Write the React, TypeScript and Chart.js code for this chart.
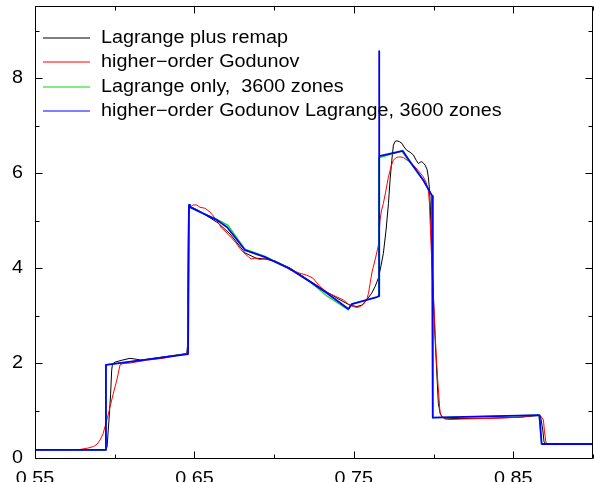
import React, { useEffect, useRef } from "react";
import { Chart, registerables } from "chart.js";

Chart.register(...registerables);

// ---- data (x = position, y = value) ----
const blackX = [0.55, 0.5939, 0.5952, 0.5964, 0.5974, 0.5981, 0.5986, 0.6002, 0.6046, 0.6096, 0.6134, 0.6169, 0.6284, 0.6452, 0.6457, 0.6463, 0.6479, 0.6523, 0.6648, 0.6723, 0.6817, 0.6886, 0.6943, 0.7006, 0.71, 0.7225, 0.733, 0.7413, 0.7476, 0.7518, 0.7551, 0.758, 0.7612, 0.7633, 0.7654, 0.7671, 0.7685, 0.7702, 0.7717, 0.7727, 0.7738, 0.7748, 0.7759, 0.7771, 0.7787, 0.7801, 0.7815, 0.7832, 0.7853, 0.7874, 0.7891, 0.7905, 0.7916, 0.7926, 0.7937, 0.7947, 0.7959, 0.7967, 0.7974, 0.7978, 0.7989, 0.7999, 0.8009, 0.802, 0.803, 0.8041, 0.8052, 0.8066, 0.8166, 0.8354, 0.8543, 0.8656, 0.8671, 0.8685, 0.8693, 0.8706, 0.9];
const blackY = [0.17, 0.17, 0.23, 0.8, 1.33, 1.85, 1.98, 2.02, 2.06, 2.1, 2.08, 2.06, 2.12, 2.2, 2.38, 5.3, 5.29, 5.22, 4.95, 4.72, 4.32, 4.21, 4.19, 4.15, 4.0, 3.73, 3.5, 3.33, 3.22, 3.19, 3.22, 3.33, 3.47, 3.61, 3.79, 4.06, 4.31, 4.8, 5.36, 5.85, 6.27, 6.59, 6.67, 6.68, 6.66, 6.63, 6.55, 6.48, 6.44, 6.38, 6.27, 6.2, 6.23, 6.24, 6.21, 6.17, 6.08, 5.92, 5.68, 5.43, 4.31, 3.43, 2.55, 1.81, 1.15, 0.95, 0.87, 0.84, 0.83, 0.84, 0.86, 0.895, 0.88, 0.59, 0.34, 0.295, 0.295];

const redX = [0.55, 0.5782, 0.5833, 0.5866, 0.5889, 0.5908, 0.5927, 0.5939, 0.5955, 0.5971, 0.5989, 0.6013, 0.6024, 0.6033, 0.6052, 0.6096, 0.62, 0.6305, 0.6452, 0.6457, 0.6463, 0.6472, 0.6491, 0.6514, 0.6535, 0.6566, 0.6598, 0.664, 0.6654, 0.6671, 0.6698, 0.6734, 0.6761, 0.6786, 0.6811, 0.6838, 0.6855, 0.688, 0.6912, 0.6943, 0.6974, 0.7006, 0.7037, 0.7068, 0.71, 0.7137, 0.7162, 0.7205, 0.7225, 0.7246, 0.7263, 0.7288, 0.7313, 0.734, 0.7382, 0.7434, 0.7464, 0.7497, 0.752, 0.7539, 0.7561, 0.758, 0.7592, 0.7602, 0.7614, 0.7633, 0.7654, 0.7664, 0.7674, 0.7685, 0.7699, 0.7717, 0.7734, 0.7748, 0.7765, 0.7779, 0.7796, 0.781, 0.784, 0.7873, 0.7903, 0.7936, 0.7953, 0.7967, 0.7974, 0.7978, 0.7987, 0.7995, 0.8006, 0.8016, 0.8028, 0.8041, 0.8054, 0.8072, 0.8104, 0.8166, 0.8292, 0.8417, 0.8543, 0.8657, 0.8674, 0.8689, 0.8696, 0.8706, 0.8718, 0.9];
const redY = [0.17, 0.18, 0.21, 0.24, 0.29, 0.38, 0.51, 0.66, 0.86, 1.08, 1.33, 1.64, 1.81, 1.96, 1.99, 2.0, 2.06, 2.1, 2.2, 2.27, 5.12, 5.28, 5.33, 5.33, 5.28, 5.26, 5.18, 5.01, 4.93, 4.84, 4.76, 4.63, 4.53, 4.41, 4.32, 4.24, 4.19, 4.21, 4.18, 4.2, 4.17, 4.13, 4.09, 4.04, 3.96, 3.92, 3.89, 3.85, 3.82, 3.78, 3.71, 3.61, 3.54, 3.47, 3.41, 3.33, 3.24, 3.19, 3.17, 3.19, 3.24, 3.33, 3.47, 3.68, 3.92, 4.17, 4.48, 5.01, 5.22, 5.36, 5.6, 5.92, 6.15, 6.27, 6.33, 6.34, 6.34, 6.33, 6.26, 6.17, 6.06, 5.92, 5.81, 5.64, 5.37, 5.01, 4.27, 3.61, 2.91, 2.2, 1.54, 0.94, 0.86, 0.82, 0.81, 0.82, 0.83, 0.84, 0.86, 0.905, 0.88, 0.8, 0.55, 0.31, 0.295, 0.295];

const greenX = [0.55, 0.5945, 0.5945, 0.646, 0.6466, 0.6472, 0.6642, 0.6711, 0.6817, 0.6943, 0.71, 0.7225, 0.7332, 0.7464, 0.7483, 0.7646, 0.7655, 0.7655, 0.7801, 0.7853, 0.7934, 0.7991, 0.7994, 0.8661, 0.8678, 0.9];
const greenY = [0.17, 0.17, 1.96, 2.19, 5.33, 5.28, 5.03, 4.9, 4.4, 4.25, 3.98, 3.71, 3.41, 3.12, 3.24, 3.39, 3.41, 6.32, 6.46, 6.22, 5.85, 5.52, 0.85, 0.905, 0.295, 0.295];

const blueX = [0.55, 0.5945, 0.5945, 0.646, 0.6466, 0.6472, 0.6642, 0.6705, 0.6817, 0.6943, 0.71, 0.7225, 0.7332, 0.7466, 0.7487, 0.7644, 0.7658, 0.7658, 0.766, 0.7806, 0.7853, 0.7936, 0.7991, 0.7995, 0.8664, 0.8678, 0.9];
const blueY = [0.17, 0.17, 1.96, 2.19, 5.33, 5.28, 5.01, 4.86, 4.38, 4.23, 3.98, 3.71, 3.47, 3.14, 3.24, 3.39, 3.41, 8.57, 6.36, 6.47, 6.24, 5.85, 5.52, 0.85, 0.905, 0.295, 0.295];

const seriesLabels = [
  "Lagrange plus remap",
  "higher\u2212order Godunov",
  "Lagrange only,  3600 zones",
  "higher\u2212order Godunov Lagrange, 3600 zones",
];
const seriesColors = ["#000000", "#ff0000", "#00dd00", "#0000ff"];

const xMajorTicks = [0.55, 0.65, 0.75, 0.85];
const xMinorTicks = [0.6, 0.7, 0.8, 0.9];
const yMajorTicks = [0, 2, 4, 6, 8];
const yMinorTicks = [1, 3, 5, 7, 9];

const FONT = '17.5px "Liberation Sans", Arial, sans-serif';
const SX = 1.13;

function pts(xs: number[], ys: number[]) {
  return xs.map((x, i) => ({ x, y: ys[i] }));
}

function stretchedText(ctx: CanvasRenderingContext2D, text: string, x: number, y: number, align: CanvasTextAlign, baseline: CanvasTextBaseline) {
  ctx.save();
  ctx.translate(x, y);
  ctx.scale(SX, 1);
  ctx.textAlign = align;
  ctx.textBaseline = baseline;
  ctx.fillText(text, 0, 0);
  ctx.restore();
}

const framePlugin = {
  id: "frame",
  afterDraw(chart: any) {
    const ctx: CanvasRenderingContext2D = chart.ctx;
    const ca = chart.chartArea;
    const xs = chart.scales.x;
    const ys = chart.scales.y;
    const L = Math.round(ca.left) + 0.5;
    const R = Math.round(ca.right) - 0.5;
    const T = Math.round(ca.top) + 0.5;
    const B = Math.round(ca.bottom) + 0.5;
    ctx.save();
    ctx.strokeStyle = "#000";
    ctx.lineWidth = 1;
    ctx.beginPath();
    ctx.moveTo(L, T);
    ctx.lineTo(R, T);
    ctx.lineTo(R, B);
    ctx.lineTo(L, B);
    ctx.closePath();
    const yt = (v: number, len: number) => {
      const p = Math.round(ys.getPixelForValue(v)) + 0.5;
      ctx.moveTo(L, p);
      ctx.lineTo(L + len, p);
      ctx.moveTo(R, p);
      ctx.lineTo(R - len, p);
    };
    yMajorTicks.forEach((v) => yt(v, 7));
    yMinorTicks.forEach((v) => yt(v, 4));
    const xt = (v: number, len: number) => {
      const p = Math.round(xs.getPixelForValue(v)) + 0.5;
      ctx.moveTo(p, B);
      ctx.lineTo(p, B - len);
      ctx.moveTo(p, T);
      ctx.lineTo(p, T + len);
    };
    xMajorTicks.forEach((v) => xt(v, 7));
    xMinorTicks.forEach((v) => xt(v, 4));
    ctx.stroke();

    ctx.fillStyle = "#000";
    ctx.font = FONT;
    yMajorTicks.forEach((v) => {
      stretchedText(ctx, String(v), 23, ys.getPixelForValue(v), "right", "middle");
    });
    xMajorTicks.forEach((v) => {
      stretchedText(ctx, v.toFixed(2), xs.getPixelForValue(v), 484, "center", "alphabetic");
    });

    const rowY = [38, 62, 87, 111];
    seriesLabels.forEach((lab, i) => {
      ctx.strokeStyle = seriesColors[i];
      ctx.lineWidth = 1.2;
      ctx.beginPath();
      ctx.moveTo(43, rowY[i]);
      ctx.lineTo(90, rowY[i]);
      ctx.stroke();
      ctx.fillStyle = "#000";
      stretchedText(ctx, lab, 101, rowY[i] + 0.5, "left", "middle");
    });
    ctx.restore();
  },
};

export default function App() {
  const ref = useRef<HTMLCanvasElement | null>(null);
  useEffect(() => {
    if (!ref.current) return;
    const ds = (label: string, xs: number[], ys: number[], color: string, width: number, order: number) => ({
      label,
      data: pts(xs, ys),
      borderColor: color,
      backgroundColor: color,
      borderWidth: width,
      borderJoinStyle: "round" as const,
      pointRadius: 0,
      tension: 0,
      fill: false,
      order,
    });
    const chart = new Chart(ref.current, {
      type: "line",
      data: {
        datasets: [
          ds(seriesLabels[0], blackX, blackY, seriesColors[0], 1, 3),
          ds(seriesLabels[1], redX, redY, seriesColors[1], 1, 2),
          ds(seriesLabels[2], greenX, greenY, seriesColors[2], 1.2, 1),
          ds(seriesLabels[3], blueX, blueY, seriesColors[3], 1.8, 0),
        ],
      },
      options: {
        animation: false,
        responsive: false,
        devicePixelRatio: 1,
        parsing: false as any,
        layout: { padding: { left: 35, top: 6, right: 1, bottom: 24 } },
        scales: {
          x: { type: "linear", min: 0.55, max: 0.9, display: false },
          y: { type: "linear", min: 0, max: 9.52, display: false },
        },
        plugins: { legend: { display: false }, tooltip: { enabled: false } },
        events: [],
      },
      plugins: [framePlugin],
    });
    return () => chart.destroy();
  }, []);
  return (
    <div style={{ position: "absolute", left: 0, top: 0, width: 594, height: 482, background: "#fff" }}>
      <canvas ref={ref} width={594} height={482} style={{ display: "block" }} />
    </div>
  );
}
